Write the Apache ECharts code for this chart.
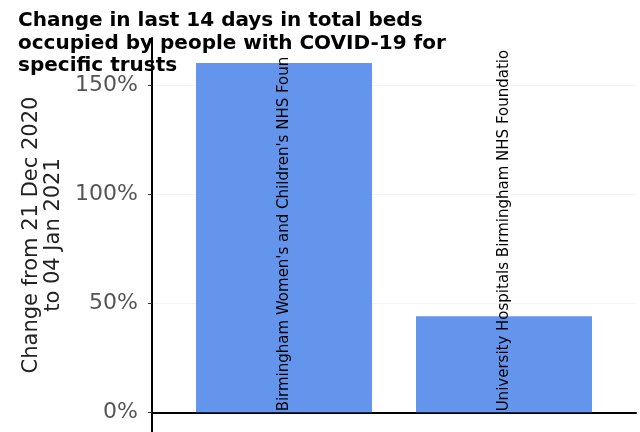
<!DOCTYPE html>
<html>
<head>
<meta charset="utf-8">
<script src="https://cdn.jsdelivr.net/npm/echarts@6/dist/echarts.min.js"></script>
<style>html,body{margin:0;padding:0;background:#fff}#c{width:640px;height:432px}</style>
</head>
<body>
<div id="c"></div>
<script>
const categories = ["Birmingham Women's and Children's NHS Foundation Trust", "University Hospitals Birmingham NHS Foundation Trust"];
const positions = [1, 2];
const values = [160, 44];
const yTicks = [0, 50, 100, 150];
const titleText = "Change in last 14 days in total beds\noccupied by people with COVID-19 for\nspecific trusts";
const yName = "Change from 21 Dec 2020\nto 04 Jan 2021";

const chart = echarts.init(document.getElementById('c'), null, {renderer: 'canvas'});
chart.setOption({
  animation: false,
  backgroundColor: '#ffffff',
  title: {
    text: titleText,
    left: 18, top: 10,
    padding: 0,
    textStyle: {fontFamily: 'DejaVu Sans', fontWeight: 'bold', fontSize: 20, lineHeight: 22.5, color: '#000'},
    z: 10
  },
  grid: {left: 152, top: 38, width: 484, height: 396, containLabel: false},
  xAxis: {
    type: 'value', min: 0.4, max: 2.6,
    axisLine: {show: true, onZero: true, lineStyle: {color: '#000', width: 2}},
    axisTick: {show: false}, axisLabel: {show: false}, splitLine: {show: false}
  },
  yAxis: {
    type: 'value', min: -9, max: 171.5,
    name: yName, nameLocation: 'middle', nameGap: 85,
    nameTextStyle: {fontFamily: 'DejaVu Sans', fontSize: 21, lineHeight: 22, color: '#222'},
    axisLine: {show: true, onZero: false, lineStyle: {color: '#000', width: 2}},
    axisTick: {show: true, length: 4, customValues: yTicks, lineStyle: {color: '#333', width: 1}},
    axisLabel: {customValues: yTicks, formatter: '{value}%', margin: 14, fontFamily: 'DejaVu Sans', fontSize: 22, color: '#555'},
    splitLine: {show: true, lineStyle: {color: '#f4f4f4', width: 1}}
  },
  series: [{
    type: 'bar',
    barWidth: 176,
    data: positions.map((p, i) => ({value: [p, values[i]], name: categories[i]})),
    itemStyle: {color: '#6495ED'},
    label: {
      show: true, position: 'insideBottom', rotate: 90, align: 'left', verticalAlign: 'middle',
      distance: 1,
      formatter: p => p.name,
      width: 364, overflow: 'truncate', ellipsis: '',
      fontFamily: 'DejaVu Sans', fontSize: 15, color: '#000'
    }
  }]
});
</script>
</body>
</html>
